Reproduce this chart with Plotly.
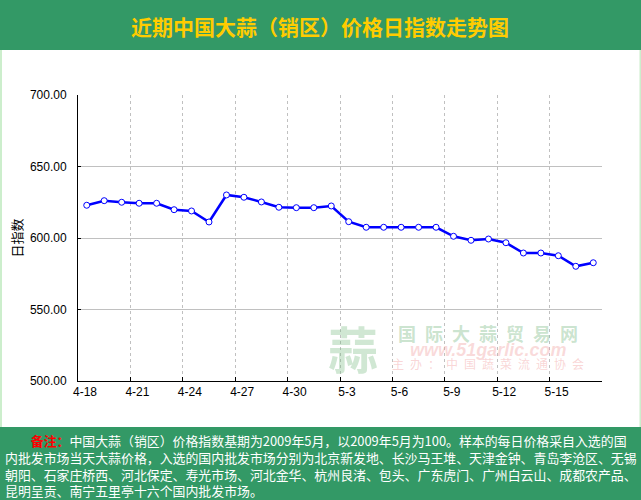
import pandas as pd
import plotly.graph_objects as go

# ---- data ----
dates = [d.strftime("%Y-%m-%d") for d in pd.date_range("2013-04-18", "2013-05-17", freq="D")]
values = [622.9, 626.1, 625.0, 624.3, 624.3, 619.8, 618.9, 611.2, 630.1, 628.5,
          625.2, 621.5, 621.2, 621.2, 622.4, 611.4, 607.5, 607.5, 607.5, 607.5,
          607.5, 601.2, 598.4, 599.3, 596.7, 589.5, 589.5, 587.6, 580.2, 582.7]
tick_dates = ["2013-04-18", "2013-04-21", "2013-04-24", "2013-04-27", "2013-04-30",
              "2013-05-03", "2013-05-06", "2013-05-09", "2013-05-12", "2013-05-15", "2013-05-18"]
tick_labels = ["4-18", "4-21", "4-24", "4-27", "4-30", "5-3", "5-6", "5-9", "5-12", "5-15", ""]
y_ticks = [500, 550, 600, 650, 700]

title = "近期中国大蒜（销区）价格日指数走势图"
note_lines = [
    '\u3000\u3000<span style="color:#FF0000"><b>备注：</b></span>中国大蒜（销区）价格指数基期为2009年5月，以2009年5月为100。样本的每日价格采自入选的国',
    "内批发市场当天大蒜价格，入选的国内批发市场分别为北京新发地、长沙马王堆、天津金钟、青岛李沧区、无锡",
    "朝阳、石家庄桥西、河北保定、寿光市场、河北金华、杭州良渚、包头、广东虎门、广州白云山、成都农产品、",
    "昆明呈贡、南宁五里亭十六个国内批发市场。",
]

# ---- layout geometry (pixels) ----
W, H = 641, 500
L, R, T, B = 78, 39, 95, 119
PW, PH = W - L - R, H - T - B


def px(x):
    return (x - L) / PW


def py(y):
    return (H - B - y) / PH


GREEN = "#339966"
CJK = "Noto Sans CJK SC"
EN = "\u2002"

fig = go.Figure()
fig.add_trace(go.Scatter(
    x=dates, y=values, mode="lines+markers",
    xperiod=86400000, xperiodalignment="middle",
    line=dict(color="#0000FF", width=2.5),
    marker=dict(symbol="circle", size=6, color="white",
                line=dict(color="#0000FF", width=1)),
    showlegend=False,
))

shapes = [
    dict(type="rect", xref="paper", yref="paper", x0=px(0), x1=px(W), y0=py(0), y1=py(50),
         fillcolor=GREEN, line_width=0),
    dict(type="rect", xref="paper", yref="paper", x0=px(0), x1=px(W), y0=py(427), y1=py(H),
         fillcolor=GREEN, line_width=0),
    dict(type="rect", xref="paper", yref="paper", x0=px(0), x1=px(2), y0=py(50), y1=py(427),
         fillcolor="#CCEECC", line_width=0),
    dict(type="rect", xref="paper", yref="paper", x0=px(639.5), x1=px(W), y0=py(50), y1=py(427),
         fillcolor="#CCEECC", line_width=0),
]

annotations = [
    dict(text=title, x=px(320), y=py(26.5), xref="paper", yref="paper", showarrow=False,
         xanchor="center", yanchor="middle",
         font=dict(family=CJK, size=21, color="#FFCC00", weight="bold")),
    dict(text="日指数", x=px(15.5), y=py(238), xref="paper", yref="paper", showarrow=False,
         textangle=-90, xanchor="center", yanchor="middle",
         font=dict(family=CJK, size=13, color="#000000")),
    # watermark
    dict(text="蒜", x=px(353), y=py(347), xref="paper", yref="paper", showarrow=False,
         xanchor="center", yanchor="middle",
         font=dict(family=CJK, size=50, color="rgba(120,185,130,0.35)", weight="bold")),
    dict(text=EN.join("国际大蒜贸易网"), x=px(488), y=py(332.5), xref="paper", yref="paper",
         showarrow=False, xanchor="center", yanchor="middle",
         font=dict(family=CJK, size=18, color="rgba(120,185,130,0.4)", weight="bold")),
    dict(text="<i><b>www.51garlic.com</b></i>", x=px(488), y=py(349.5), xref="paper", yref="paper",
         showarrow=False, xanchor="center", yanchor="middle",
         font=dict(family="Liberation Sans", size=18, color="rgba(240,150,150,0.35)")),
    dict(text=EN.join("主办：中国蔬菜流通协会"), x=px(488), y=py(363.5), xref="paper", yref="paper",
         showarrow=False, xanchor="center", yanchor="middle",
         font=dict(family=CJK, size=12, color="rgba(240,150,150,0.4)")),
    # note
    dict(text="<br>".join(note_lines), x=px(3), y=py(465), xref="paper", yref="paper",
         showarrow=False, xanchor="left", yanchor="middle", align="left",
         font=dict(family=CJK, size=12.9, color="#FFFFFF")),
]

fig.update_layout(
    width=W, height=H,
    margin=dict(l=L, r=R, t=T, b=B, pad=0),
    paper_bgcolor="white", plot_bgcolor="white",
    shapes=shapes, annotations=annotations,
    xaxis=dict(
        type="date", range=["2013-04-18", "2013-05-18"],
        tickmode="array", tickvals=tick_dates, ticktext=tick_labels,
        showgrid=True, gridcolor="#C0C0C0", gridwidth=1, griddash="3px,3px",
        showline=True, linecolor="#000000", linewidth=1,
        ticks="inside", ticklen=4, tickcolor="#000000",
        ticklabelshift=7,
        tickfont=dict(family="Liberation Sans", size=12, color="#000000"),
        zeroline=False, fixedrange=True,
    ),
    yaxis=dict(
        range=[500, 700], tickmode="array", tickvals=y_ticks, tickformat=".2f",
        showgrid=True, gridcolor="#C0C0C0", gridwidth=1,
        showline=True, linecolor="#000000", linewidth=1,
        ticks="inside", ticklen=3, tickcolor="#000000",
        ticklabelstandoff=8,
        tickfont=dict(family="Liberation Sans", size=12, color="#000000"),
        zeroline=False, fixedrange=True,
    ),
)

fig.write_html("out.html")
